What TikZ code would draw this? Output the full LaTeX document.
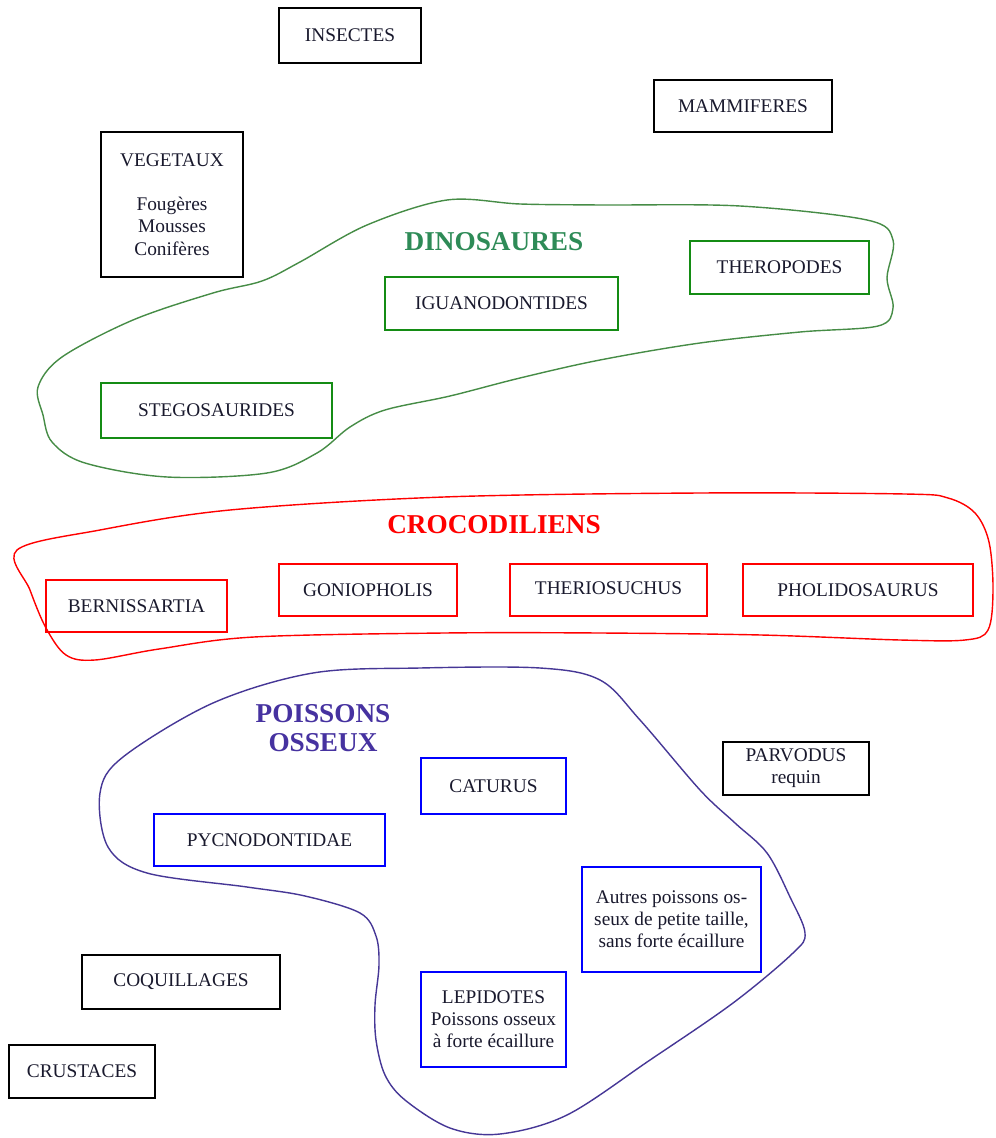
\documentclass[tikz,border=0pt]{standalone}
\usepackage{fontspec}
\setmainfont{Liberation Serif}
\definecolor{boxgreen}{RGB}{20,140,20}
\definecolor{titlegreen}{RGB}{46,139,87}
\definecolor{linegreen}{RGB}{70,140,70}
\definecolor{boxred}{RGB}{255,0,0}
\definecolor{boxblue}{RGB}{0,0,255}
\definecolor{navyline}{RGB}{70,55,150}
\definecolor{navytitle}{RGB}{70,50,160}
\definecolor{txt}{RGB}{25,25,45}
\tikzset{
  box/.style={draw, line width=1.1pt, inner sep=0pt, align=center,
    font=\fontsize{11}{12.6}\selectfont, text=txt},
  blackbox/.style={box, draw=black},
  greenbox/.style={box, draw=boxgreen},
  redbox/.style={box, draw=boxred},
  bluebox/.style={box, draw=boxblue},
  grouptitle/.style={font=\fontsize{15.5}{16.5}\selectfont\bfseries, align=center, inner sep=0pt},
  outline/.style={line width=0.8pt}
}
\newcommand\boxnode[7]{%
  \node[#2, minimum width={(#5-#3)*0.02cm}, minimum height={(#6-#4)*0.02cm}]
    (#1) at ({(#3+#5)/2},{(#4+#6)/2}) {#7};}
\begin{document}
\begin{tikzpicture}[x=0.02cm, y=-0.02cm]
\useasboundingbox (0,0) rectangle (995,1138);

% group outlines
\draw[outline, linegreen] plot[smooth cycle, tension=0.55] coordinates {
  (447,200) (367,225) (300,262) (262,281) (213,293) (133,320) (62,357)
  (38,387) (43,415) (52,442) (85,463) (167,477) (267,473) (317,453)
  (350,427) (385,410) (450,396) (520,378) (600,360) (700,343) (800,332)
  (878,326) (893,308) (887,278) (893,240) (867,220) (740,206) (600,205) (520,204)};

\draw[outline, boxred] plot[smooth cycle, tension=0.55] coordinates {
  (17,550) (100,530) (230,510) (444,497) (700,493) (905,494) (948,498)
  (975,513) (989,542) (993,590) (988,630) (965,640) (900,640) (761,635) (600,633)
  (444,633) (254,637) (159,649) (95,660) (66,655) (46,628) (30,590)};

\draw[outline, navyline] plot[smooth cycle, tension=0.55] coordinates {
  (420,668) (540,668) (600,680) (640,720) (700,790) (735,823) (767,853)
  (790,897) (805,933) (793,953) (733,1003) (650,1060) (567,1115) (500,1134)
  (450,1128) (405,1100) (385,1075) (376,1040) (375,1005) (379,965) (376,936)
  (360,913) (305,896) (247,887) (147,873) (108,847) (100,793) (123,757) (213,703) (313,673)};

% titles
\node[grouptitle, text=titlegreen] (tdino) at (494,242) {DINOSAURES};
\node[grouptitle, text=boxred] (tcroco) at (494,525) {CROCODILIENS};
\node[grouptitle, text=navytitle] (tpois) at (323,728) {POISSONS\\OSSEUX};

% black boxes
\boxnode{insectes}{blackbox}{279}{8}{421}{63}{INSECTES}
\boxnode{mammiferes}{blackbox}{654}{80}{832}{132}{MAMMIFERES}
\boxnode{vegetaux}{blackbox}{101}{132}{243}{277}{VEGETAUX\\[12.6pt]Fougères\\Mousses\\Conifères}
\boxnode{parvodus}{blackbox}{723}{742}{869}{795}{PARVODUS\\requin}
\boxnode{coquillages}{blackbox}{82}{955}{280}{1009}{COQUILLAGES}
\boxnode{crustaces}{blackbox}{9}{1045}{155}{1098}{CRUSTACES}

% dinosaures
\boxnode{theropodes}{greenbox}{690}{241}{869}{294}{THEROPODES}
\boxnode{iguano}{greenbox}{385}{277}{618}{330}{IGUANODONTIDES}
\boxnode{stego}{greenbox}{101}{383}{332}{438}{STEGOSAURIDES}

% crocodiliens
\boxnode{berni}{redbox}{46}{580}{227}{632}{\raisebox{-1.2pt}{BERNISSARTIA}}
\boxnode{gonio}{redbox}{279}{564}{457}{616}{GONIOPHOLIS}
\boxnode{therio}{redbox}{510}{564}{707}{616}{\raisebox{2.5pt}{THERIOSUCHUS}}
\boxnode{pholi}{redbox}{743}{564}{973}{616}{PHOLIDOSAURUS}

% poissons osseux
\boxnode{caturus}{bluebox}{421}{758}{566}{814}{CATURUS}
\boxnode{pycno}{bluebox}{154}{814}{385}{866}{PYCNODONTIDAE}
\boxnode{autres}{bluebox}{582}{867}{761}{972}{Autres poissons os-\\seux de petite taille,\\sans forte écaillure}
\boxnode{lepi}{bluebox}{421}{972}{566}{1067}{LEPIDOTES\\Poissons osseux\\à forte écaillure}
\end{tikzpicture}
\end{document}
